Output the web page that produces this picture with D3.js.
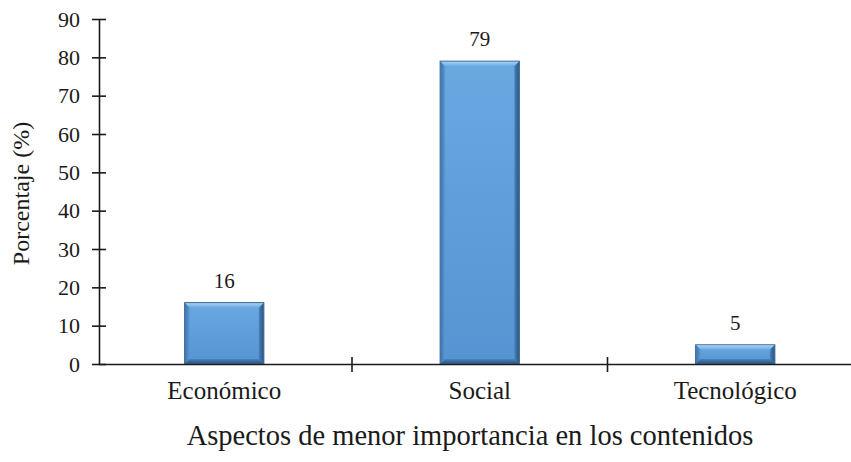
<!DOCTYPE html>
<html>
<head>
<meta charset="utf-8">
<script src="https://cdn.jsdelivr.net/npm/d3@7"></script>
<style>
  html, body { margin: 0; padding: 0; background: #ffffff; }
  svg { display: block; }
</style>
</head>
<body>
<svg id="chart" width="851" height="462"></svg>
<script>
// Aspects considered of lesser importance in the contents (percent of responses)
const categories = ["Económico", "Social", "Tecnológico"];
const values = [16, 79, 5];
const yTicks = [0, 10, 20, 30, 40, 50, 60, 70, 80, 90];

const svg = d3.select("#chart");
const width = 851, height = 462;
const margin = { left: 99, top: 19, bottom: 98 };
const plotBottom = height - margin.bottom; // 364
const serif = "'Liberation Serif'";
const ink = "#1a1a1a";

const x = d3.scaleBand()
  .domain(categories)
  .range([96.5, 96.5 + 3 * 255.5])
  .paddingInner(0.69)
  .paddingOuter(0.345);

const y = d3.scaleLinear()
  .domain([0, 90])
  .range([plotBottom, margin.top]);

// Bevel gradients for the bars
const defs = svg.append("defs");
function grad(id, vertical, c0, c1) {
  const g = defs.append("linearGradient").attr("id", id)
    .attr("x1", 0).attr("y1", 0)
    .attr("x2", vertical ? 0 : 1).attr("y2", vertical ? 1 : 0);
  g.append("stop").attr("offset", "0%").attr("stop-color", c0);
  g.append("stop").attr("offset", "100%").attr("stop-color", c1);
}
grad("barFill", true, "#6aa8e2", "#5593d2");
grad("topEdge", true, "#a9d0f3", "#6aa8e2");
grad("rightEdge", false, "#4a83bd", "#2c5680");
grad("leftEdge", false, "#3f74aa", "#5c9ad6");
grad("bottomEdge", true, "#4a83bd", "#2c5680");

const data = categories.map((c, i) => ({ cat: c, value: values[i] }));
const bw = x.bandwidth();
const edge = 5;

const bars = svg.append("g").selectAll("g").data(data).join("g");

bars.append("rect")
  .attr("x", d => x(d.cat))
  .attr("y", d => y(d.value))
  .attr("width", bw)
  .attr("height", d => y(0) - y(d.value))
  .attr("fill", "url(#barFill)")
  .attr("stroke", "#2f5f8f")
  .attr("stroke-width", 1);

function bevel(side) {
  return d => {
    const x0 = x(d.cat), x1 = x0 + bw, t = y(d.value), b = y(0);
    const e = Math.min(edge, (b - t) / 2);
    if (side === "top") return `M${x0 + 0.5},${t + 0.5}L${x1 - 0.5},${t + 0.5}L${x1 - e},${t + e}L${x0 + e},${t + e}Z`;
    if (side === "left") return `M${x0 + 0.5},${t + 0.5}L${x0 + e},${t + e}L${x0 + e},${b - e}L${x0 + 0.5},${b - 0.5}Z`;
    if (side === "right") return `M${x1 - 0.5},${t + 0.5}L${x1 - e},${t + e}L${x1 - e},${b - e}L${x1 - 0.5},${b - 0.5}Z`;
    return `M${x0 + 0.5},${b - 0.5}L${x0 + e},${b - e}L${x1 - e},${b - e}L${x1 - 0.5},${b - 0.5}Z`;
  };
}
bars.append("path").attr("d", bevel("top")).attr("fill", "url(#topEdge)");
bars.append("path").attr("d", bevel("left")).attr("fill", "url(#leftEdge)");
bars.append("path").attr("d", bevel("right")).attr("fill", "url(#rightEdge)");
bars.append("path").attr("d", bevel("bottom")).attr("fill", "url(#bottomEdge)");

// value labels
bars.append("text")
  .attr("x", d => x(d.cat) + bw / 2)
  .attr("y", d => y(d.value) - 15)
  .attr("text-anchor", "middle")
  .style("font-family", serif)
  .style("font-size", "21px")
  .style("fill", ink)
  .text(d => d.value);

// Y axis
const yAxis = svg.append("g")
  .attr("transform", `translate(${margin.left},0)`)
  .call(d3.axisLeft(y).tickValues(yTicks).tickSize(0).tickPadding(19));
yAxis.select(".domain").attr("stroke", ink).attr("stroke-width", 1.6);
yAxis.selectAll(".tick line").attr("x1", -7).attr("x2", 7)
  .attr("stroke", ink).attr("stroke-width", 1.6);
yAxis.selectAll(".tick text")
  .style("font-family", serif)
  .style("font-size", "22px")
  .style("fill", ink);

// X axis
const xAxis = svg.append("g")
  .attr("transform", `translate(0,${plotBottom})`)
  .call(d3.axisBottom(x).tickSize(0));
xAxis.select(".domain")
  .attr("d", `M${margin.left},0.5H${width}`)
  .attr("stroke", ink).attr("stroke-width", 1.6);
xAxis.selectAll(".tick text")
  .attr("y", 35)
  .attr("dy", 0)
  .style("font-family", serif)
  .style("font-size", "25px")
  .style("fill", ink);

// category separators crossing the baseline
const step = x.step();
const seps = categories.slice(1).map(c => x(c) - x.paddingInner() * step / 2);
svg.append("g").selectAll("line").data(seps).join("line")
  .attr("x1", d => d).attr("x2", d => d)
  .attr("y1", plotBottom - 7).attr("y2", plotBottom + 8)
  .attr("stroke", ink).attr("stroke-width", 1.6);

// axis titles
svg.append("text")
  .attr("transform", `translate(29,${(y(0) + y(90)) / 2 + 2}) rotate(-90)`)
  .attr("text-anchor", "middle")
  .style("font-family", serif)
  .style("font-size", "24px")
  .style("fill", ink)
  .text("Porcentaje (%)");

svg.append("text")
  .attr("x", 470)
  .attr("y", 445)
  .attr("text-anchor", "middle")
  .style("font-family", serif)
  .style("font-size", "28.5px")
  .style("fill", ink)
  .text("Aspectos de menor importancia en los contenidos");
</script>
</body>
</html>
